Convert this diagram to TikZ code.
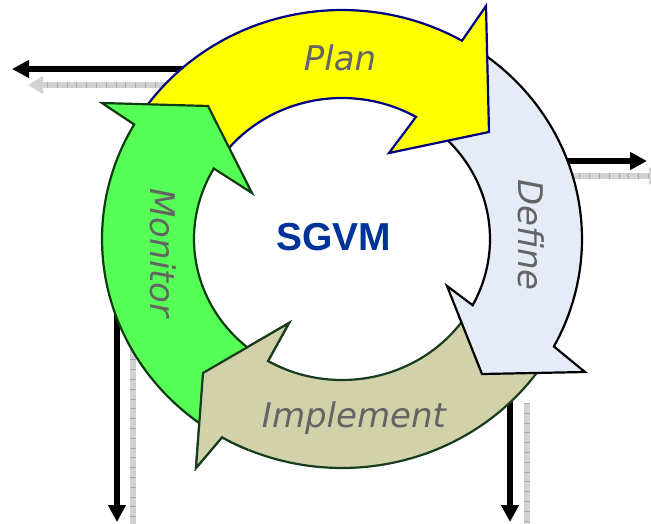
\documentclass[tikz,border=0pt]{standalone}
\usepackage{fontspec}
\setmainfont{DejaVu Sans}
\newfontfamily\lblfont{DejaVu Sans}
\newfontfamily\titlefont{Liberation Sans}
\usetikzlibrary{arrows.meta}
\definecolor{plancol}{RGB}{255,255,0}
\definecolor{planline}{RGB}{0,0,128}
\definecolor{definecol}{RGB}{230,236,247}
\definecolor{defline}{RGB}{0,0,0}
\definecolor{implcol}{RGB}{210,210,170}
\definecolor{impline}{RGB}{25,60,30}
\definecolor{moncol}{RGB}{85,255,85}
\definecolor{monline}{RGB}{15,60,15}
\definecolor{labelgray}{RGB}{100,100,100}
\definecolor{sgvmblue}{RGB}{0,51,153}
\begin{document}
\begin{tikzpicture}[x=1pt,y=-1pt,
  seg/.style={line width=2.2pt, line join=miter},
  lbl/.style={font=\lblfont\itshape\fontsize{34}{40}\selectfont, text=labelgray, inner sep=0pt, anchor=base},
  blackarr/.style={line width=5.5pt, black, -{Triangle[length=17pt,width=17pt]}},
  grayarr/.style={line width=6.5pt, gray!35, -{Triangle[length=15pt,width=17pt]}},
  grayticks/.style={line width=6.5pt, gray!65, dash pattern=on 0.8pt off 9pt, shorten >=15pt},
]
\useasboundingbox (0,0) rectangle (651,523);

% side connectors (behind the ring)
\coordinate (tlA) at (200,69);  \coordinate (tlB) at (12,69);
\coordinate (tgA) at (185,85);  \coordinate (tgB) at (28,85);
\coordinate (rA) at (540,161);  \coordinate (rB) at (647,161);
\coordinate (rgA) at (550,176); \coordinate (rgB) at (664,176);
\coordinate (blA) at (117,290); \coordinate (blB) at (117,522);
\coordinate (bgA) at (133,330); \coordinate (bgB) at (133,545);
\coordinate (brA) at (510,380); \coordinate (brB) at (510,522);
\coordinate (brgA) at (527,403); \coordinate (brgB) at (527,545);

\draw[grayarr] (tgA) -- (tgB);   \draw[grayticks] (tgA) -- (tgB);
\draw[grayarr] (rgA) -- (rgB);   \draw[grayticks] (rgA) -- (rgB);
\draw[grayarr] (bgA) -- (bgB);   \draw[grayticks] (bgA) -- (bgB);
\draw[grayarr] (brgA) -- (brgB); \draw[grayticks] (brgA) -- (brgB);
\draw[blackarr] (tlA) -- (tlB);
\draw[blackarr] (rA) -- (rB);
\draw[blackarr] (blA) -- (blB);
\draw[blackarr] (brA) -- (brB);

% Implement
\path[seg, fill=implcol, draw=impline]
  plot[domain=332:240, samples=60] ({342+240*cos(\x)},{239-229*sin(\x)})
  -- (196,468) -- (203,373) -- (289,323)
  -- plot[domain=240:332, samples=60] ({342+148*cos(\x)},{239-141*sin(\x)})
  -- cycle;
% Define
\path[seg, fill=definecol, draw=defline]
  plot[domain=60:-28, samples=60] ({342+240*cos(\x)},{239-229*sin(\x)})
  -- (585,372) -- (482,374) -- (447,286)
  -- plot[domain=-28:60, samples=60] ({342+148*cos(\x)},{239-141*sin(\x)})
  -- cycle;
% Plan
\path[seg, fill=plancol, draw=planline]
  plot[domain=150:60, samples=60] ({342+240*cos(\x)},{239-229*sin(\x)})
  -- (486,6) -- (489,132) -- (389,153)
  -- plot[domain=60:150, samples=60] ({342+148*cos(\x)},{239-141*sin(\x)})
  -- cycle;
% Monitor
\path[seg, fill=moncol, draw=monline]
  plot[domain=240:150, samples=60] ({342+240*cos(\x)},{239-229*sin(\x)})
  -- (102,103) -- (208,106) -- (252,193)
  -- plot[domain=150:240, samples=60] ({342+148*cos(\x)},{239-141*sin(\x)})
  -- cycle;
% Implement head on top of Monitor tail
\fill[implcol]
  plot[domain=247:240, samples=10] ({342+240*cos(\x)},{239-229*sin(\x)})
  -- (196,468) -- (203,373) -- (289,323)
  -- plot[domain=240:247, samples=10] ({342+148*cos(\x)},{239-141*sin(\x)})
  -- cycle;
\draw[seg, impline]
  plot[domain=247:240, samples=10] ({342+240*cos(\x)},{239-229*sin(\x)})
  -- (196,468) -- (203,373) -- (289,323)
  -- plot[domain=240:247, samples=10] ({342+148*cos(\x)},{239-141*sin(\x)});

% labels
\node[lbl] (plan) at (340,70) {Plan};
\node[lbl, rotate=-90] (define) at (518,235) {Define};
\node[lbl] (implement) at (354,427) {Implement};
\node[lbl, rotate=-90] (monitor) at (150,253) {Monitor};
\node[font=\titlefont\bfseries\fontsize{39}{44}\selectfont, text=sgvmblue, inner sep=0pt, anchor=base] (sgvm) at (334,250) {SGVM};
\end{tikzpicture}
\end{document}
